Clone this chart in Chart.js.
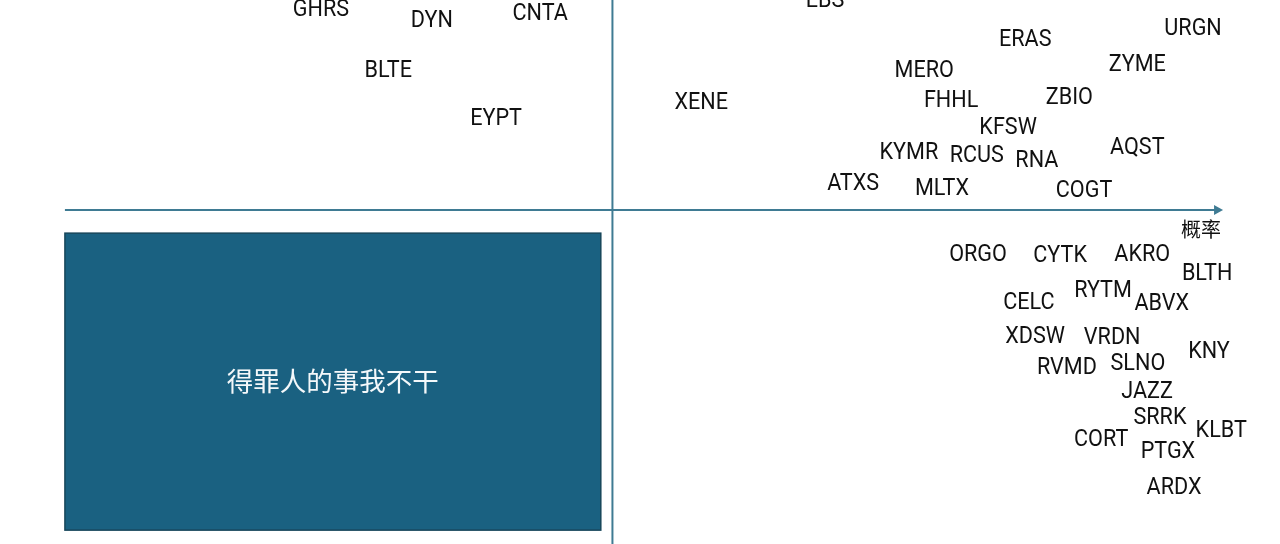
<!DOCTYPE html>
<html>
<head>
<meta charset="utf-8">
<title>概率象限图</title>
<script src="https://cdn.jsdelivr.net/npm/chart.js@4.4.1/dist/chart.umd.min.js"></script>
<style>
  html, body { margin: 0; padding: 0; background: #fff; }
  #wrap { width: 1280px; height: 544px; }
</style>
</head>
<body>
<div id="wrap"><canvas id="quadChart" width="1280" height="544"></canvas></div>
<script>
// tickers and their position: x = probability (right = higher), y = the other axis
const tickers = [
  'GHRS', 'DYN', 'CNTA', 'BLTE', 'EYPT',
  'EBS', 'XENE', 'ERAS', 'URGN', 'MERO', 'ZYME', 'FHHL', 'ZBIO', 'KFSW', 'AQST',
  'KYMR', 'RCUS', 'RNA', 'ATXS', 'MLTX', 'COGT',
  'ORGO', 'CYTK', 'AKRO', 'BLTH', 'RYTM', 'ABVX', 'CELC', 'XDSW', 'VRDN', 'KNY',
  'RVMD', 'SLNO', 'JAZZ', 'SRRK', 'KLBT', 'CORT', 'PTGX', 'ARDX'
];
const probX = [
  -0.476, -0.295, -0.118, -0.366, -0.190,
  0.347, 0.145, 0.674, 0.948, 0.509, 0.857, 0.553, 0.746, 0.646, 0.857,
  0.484, 0.595, 0.693, 0.393, 0.538, 0.770,
  0.597, 0.731, 0.865, 0.971, 0.801, 0.897, 0.680, 0.690, 0.816, 0.974,
  0.742, 0.858, 0.873, 0.894, 0.994, 0.798, 0.907, 0.917
];
const valueY = [
  0.962, 0.910, 0.943, 0.671, 0.443,
  1.005, 0.519, 0.819, 0.871, 0.671, 0.700, 0.529, 0.543, 0.400, 0.305,
  0.281, 0.267, 0.243, 0.133, 0.110, 0.100,
  -0.205, -0.210, -0.205, -0.295, -0.376, -0.438, -0.433, -0.595, -0.600, -0.667,
  -0.743, -0.724, -0.857, -0.981, -1.043, -1.086, -1.143, -1.314
];

// lower-left quadrant note
const boxCorners = { x0: -0.894, x1: -0.019, y0: -0.110, y1: -1.524 };
const boxText = '得罪人的事我不干';
const xAxisTitle = '概率';
const xAxisRange = [-0.894, 0.997];

const AXIS_COLOR = '#3f7b93';
const BOX_FILL = '#1a6181';
const BOX_EDGE = '#17465a';

const points = tickers.map((t, i) => ({ x: probX[i], y: valueY[i], label: t }));

const quadrantPlugin = {
  id: 'quadrant',
  beforeDatasetsDraw(chart) {
    const { ctx, scales: { x, y } } = chart;
    ctx.save();

    // note box
    const bx0 = x.getPixelForValue(boxCorners.x0);
    const bx1 = x.getPixelForValue(boxCorners.x1);
    const by0 = y.getPixelForValue(boxCorners.y0);
    const by1 = y.getPixelForValue(boxCorners.y1);
    ctx.fillStyle = BOX_FILL;
    ctx.fillRect(bx0, by0, bx1 - bx0, by1 - by0);
    ctx.strokeStyle = BOX_EDGE;
    ctx.lineWidth = 1.5;
    ctx.strokeRect(bx0, by0, bx1 - bx0, by1 - by0);
    ctx.fillStyle = '#f4f8fa';
    ctx.font = '26.5px "Noto Sans CJK SC", sans-serif';
    ctx.textAlign = 'center';
    ctx.textBaseline = 'middle';
    ctx.fillText(boxText, (bx0 + bx1) / 2, (by0 + by1) / 2 - 1);

    // axes
    const x0 = x.getPixelForValue(0);
    const y0 = y.getPixelForValue(0);
    ctx.strokeStyle = AXIS_COLOR;
    ctx.lineWidth = 2;
    ctx.beginPath();
    ctx.moveTo(x0, chart.chartArea.top);
    ctx.lineTo(x0, chart.chartArea.bottom);
    ctx.stroke();

    const xl = x.getPixelForValue(xAxisRange[0]);
    const xr = x.getPixelForValue(xAxisRange[1]);
    ctx.beginPath();
    ctx.moveTo(xl, y0);
    ctx.lineTo(xr - 6, y0);
    ctx.stroke();
    ctx.fillStyle = AXIS_COLOR;
    ctx.beginPath();
    ctx.moveTo(xr, y0);
    ctx.lineTo(xr - 9, y0 - 5);
    ctx.lineTo(xr - 9, y0 + 5);
    ctx.closePath();
    ctx.fill();

    ctx.fillStyle = '#111';
    ctx.font = '20px "Noto Sans CJK SC", sans-serif';
    ctx.fillText(xAxisTitle, xr - 22, y0 + 19);
    ctx.restore();
  },
  afterDatasetsDraw(chart) {
    const { ctx } = chart;
    const meta = chart.getDatasetMeta(0);
    ctx.save();
    ctx.fillStyle = '#111';
    ctx.font = '24px Roboto, sans-serif';
    ctx.textAlign = 'center';
    ctx.textBaseline = 'middle';
    meta.data.forEach((pt, i) => {
      ctx.save();
      ctx.translate(pt.x, pt.y);
      ctx.scale(0.9, 1); // the source font is a narrow one
      ctx.fillText(tickers[i], 0, 2);
      ctx.restore();
    });
    ctx.restore();
  }
};

new Chart(document.getElementById('quadChart').getContext('2d'), {
  type: 'scatter',
  data: {
    datasets: [{
      label: 'tickers',
      data: points,
      pointRadius: 0,
      pointHoverRadius: 0
    }]
  },
  options: {
    responsive: false,
    animation: false,
    devicePixelRatio: 1,
    layout: { padding: 0 },
    plugins: {
      legend: { display: false },
      tooltip: { enabled: false }
    },
    scales: {
      x: { type: 'linear', min: -1, max: 1.09, display: false },
      y: { type: 'linear', min: -1.59, max: 1, display: false }
    }
  },
  plugins: [quadrantPlugin]
});
</script>
</body>
</html>
